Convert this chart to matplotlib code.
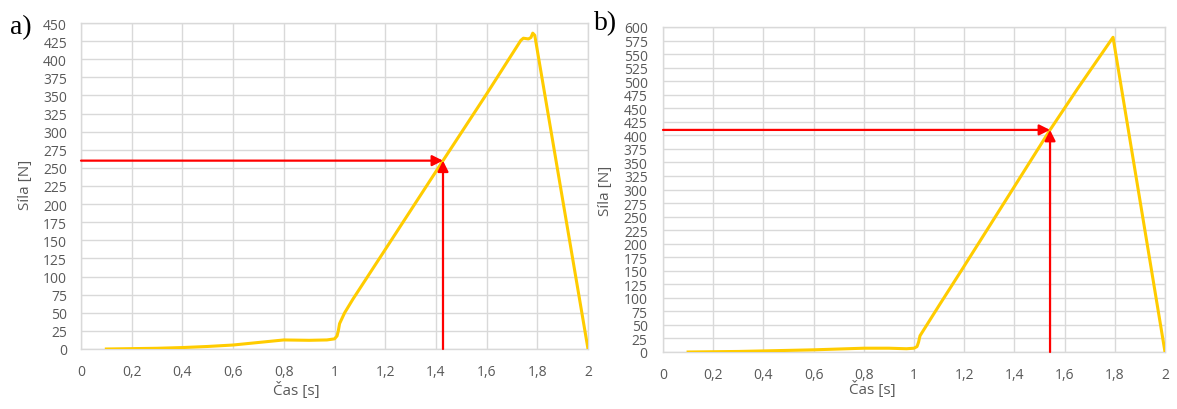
import matplotlib
matplotlib.use("Agg")
import matplotlib.pyplot as plt
from matplotlib.ticker import FixedLocator, FuncFormatter

# Force-time records of the two tests
time_a = [0.1, 0.2, 0.3, 0.4, 0.5, 0.6, 0.7, 0.8, 0.9, 0.97, 1.0, 1.01, 1.015, 1.02,
          1.04, 1.073, 1.207, 1.337, 1.428, 1.6, 1.735, 1.745, 1.765, 1.775, 1.782, 1.79, 2.0]
force_a = [0, 0.5, 1, 2, 3.5, 5.5, 9, 12.5, 12, 12.5, 14, 18, 25, 35,
           50, 69, 141, 211, 260, 352, 426, 429, 428, 430, 436, 433, 0]

time_b = [0.1, 0.2, 0.3, 0.4, 0.5, 0.6, 0.7, 0.8, 0.9, 0.97, 1.0, 1.012, 1.018, 1.024,
          1.1, 1.195, 1.3, 1.402, 1.542, 1.65, 1.793, 2.0]
force_b = [0, 0.5, 1, 2, 3, 4, 5.5, 7, 7, 6, 7, 10, 18, 30,
           86, 155, 232, 307, 410, 485, 581, 0]

# Marked reading on each curve (time, force)
mark_a = (1.428, 260)
mark_b = (1.542, 410)

x_ticks = [0, 0.2, 0.4, 0.6, 0.8, 1.0, 1.2, 1.4, 1.6, 1.8, 2.0]
y_ticks_a = list(range(0, 451, 25))
y_ticks_b = list(range(0, 601, 25))

panel_letters = ["a)", "b)"]
x_label = "Čas [s]"
y_label = "Síla [N]"

LINE = "#FFCC00"
GRID = "#d9d9d9"
TEXT = "#595959"
LABEL_FONT = ["Open Sans", "DejaVu Sans"]

fig = plt.figure(figsize=(11.77, 4.10), dpi=100)
W, H = 1177, 410


def fmt_time(v, _pos):
    s = f"{v:.1f}".rstrip("0").rstrip(".")
    return s.replace(".", ",")


def panel(box, t, f, mark, yticks, ylab_xy, xlab_xy, ypad):
    l, r, top, bot = box
    ax = fig.add_axes([l / W, 1 - bot / H, (r - l) / W, (bot - top) / H])
    ax.plot(t, f, color=LINE, lw=2.2, solid_joinstyle="round", zorder=3)
    ax.set_xlim(0, 2)
    ax.set_ylim(0, yticks[-1])
    ax.xaxis.set_major_locator(FixedLocator(x_ticks))
    ax.yaxis.set_major_locator(FixedLocator(yticks))
    ax.xaxis.set_major_formatter(FuncFormatter(fmt_time))
    ax.grid(True, color=GRID, lw=1.0)
    ax.set_axisbelow(True)
    for sp in ax.spines.values():
        sp.set_color(GRID)
        sp.set_linewidth(1.0)
    ax.tick_params(axis="both", length=0, colors=TEXT, labelsize=10)
    ax.tick_params(axis="y", pad=ypad)
    ax.tick_params(axis="x", pad=11)
    for lab in ax.get_xticklabels() + ax.get_yticklabels():
        lab.set_family(LABEL_FONT)

    # Arrows marking the reading
    mx, my = mark
    arrow = dict(arrowstyle="-|>", color="#FF0000", lw=1.6, mutation_scale=16,
                 shrinkA=0, shrinkB=0)
    ax.annotate("", xy=(mx, my), xytext=(0, my), arrowprops=arrow, zorder=4,
                annotation_clip=False)
    ax.annotate("", xy=(mx, my), xytext=(mx, 0), arrowprops=arrow, zorder=4,
                annotation_clip=False)

    ax.set_xlabel(x_label, fontsize=11, color=TEXT, family=LABEL_FONT)
    ax.set_ylabel(y_label, fontsize=11, color=TEXT, family=LABEL_FONT)
    ax.xaxis.label.set_va("center")
    ax.yaxis.label.set_va("center")
    ax.xaxis.set_label_coords((xlab_xy[0] - l) / (r - l), (bot - xlab_xy[1]) / (bot - top))
    ax.yaxis.set_label_coords((ylab_xy[0] - l) / (r - l), (bot - ylab_xy[1]) / (bot - top))
    return ax


panel((81, 588, 24, 350), time_a, force_a, mark_a, y_ticks_a,
      ylab_xy=(25, 185), xlab_xy=(296, 391), ypad=10)
panel((663, 1165, 28, 353), time_b, force_b, mark_b, y_ticks_b,
      ylab_xy=(605, 191), xlab_xy=(872, 390), ypad=11)

fig.text(10 / W, 1 - 28 / H, panel_letters[0], fontsize=20, family="Liberation Serif",
         ha="left", va="center", color="black")
fig.text(594 / W, 1 - 24 / H, panel_letters[1], fontsize=20, family="Liberation Serif",
         ha="left", va="center", color="black")

fig.savefig("out.png", dpi=100, facecolor="white")
